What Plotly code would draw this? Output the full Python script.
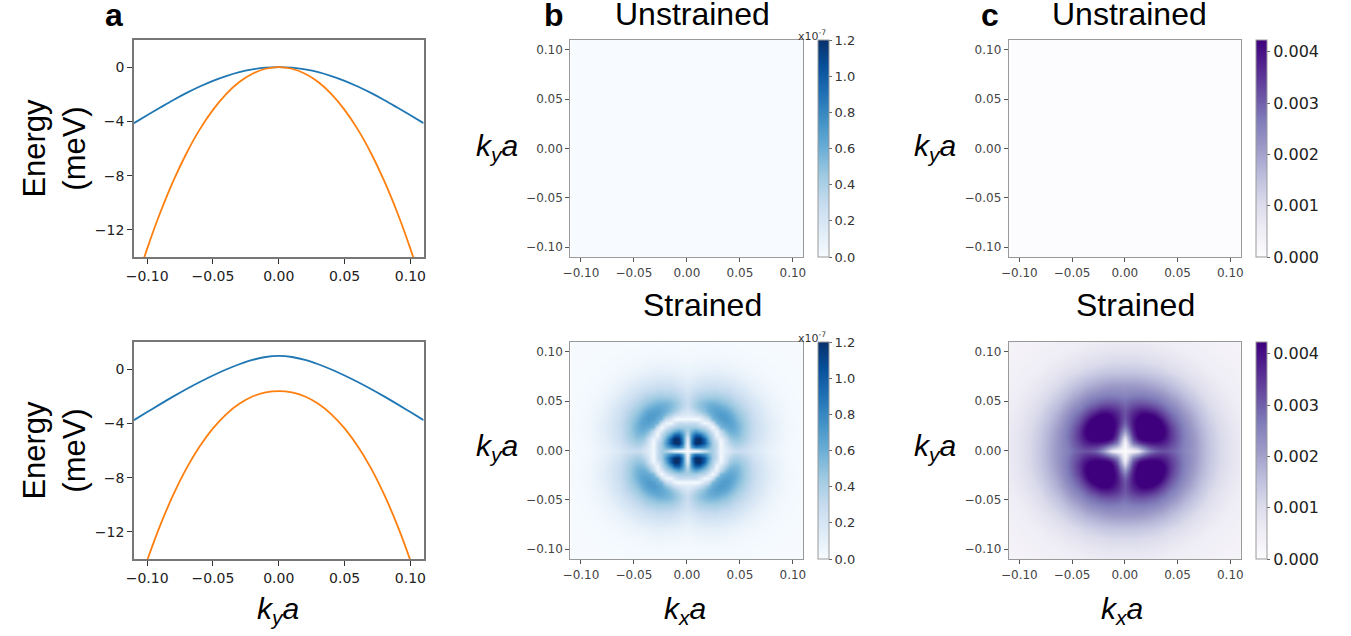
import numpy as np
import plotly.graph_objects as go
import plotly.express as px

W, H = 1351, 636

# ---------------- data: panel a (band energies, meV) ----------------
k_line = [-0.11, -0.10, -0.09, -0.08, -0.07, -0.06, -0.05, -0.04, -0.03, -0.02, -0.01, 0.0,
          0.01, 0.02, 0.03, 0.04, 0.05, 0.06, 0.07, 0.08, 0.09, 0.10, 0.11]
blue_unstrained = [-4.13, -3.55, -2.98, -2.42, -1.90, -1.43, -1.01, -0.66, -0.37, -0.17, -0.04, 0.0,
                   -0.04, -0.17, -0.37, -0.66, -1.01, -1.43, -1.90, -2.42, -2.98, -3.55, -4.13]
orange_unstrained = [-16.41, -13.4, -10.72, -8.37, -6.33, -4.59, -3.15, -1.99, -1.1, -0.485, -0.12, 0.0,
                     -0.12, -0.485, -1.1, -1.99, -3.15, -4.59, -6.33, -8.37, -10.72, -13.4, -16.41]
blue_strained = [-3.76, -3.165, -2.58, -2.01, -1.465, -0.95, -0.47, -0.03, 0.36, 0.68, 0.895, 0.97,
                 0.895, 0.68, 0.36, -0.03, -0.47, -0.95, -1.465, -2.01, -2.58, -3.165, -3.76]
orange_strained = [-17.1, -14.12, -11.5, -9.24, -7.3, -5.69, -4.37, -3.33, -2.56, -2.02, -1.72, -1.62,
                   -1.72, -2.02, -2.56, -3.33, -4.37, -5.69, -7.3, -9.24, -11.5, -14.12, -17.1]

# ---------------- data: heatmaps (one quadrant, kx>=0, ky>=0; rows = ky) ----------------
k_quad = [0.0, 0.004, 0.008, 0.012, 0.016, 0.020, 0.024, 0.028, 0.032, 0.036,
          0.040, 0.044, 0.048, 0.056, 0.064, 0.072, 0.080, 0.090, 0.100, 0.110]

# panel b, strained, units of 1e-7
b_strained_quad = [
    [0.0, 0.02, 0.05, 0.12, 0.28, 0.4, 0.42, 0.28, 0.03, 0.14, 0.2, 0.26, 0.28, 0.24, 0.17, 0.12, 0.076, 0.036, 0.018, 0.009],
    [0.02, 0.67, 0.85, 0.82, 0.74, 0.58, 0.42, 0.3, 0.03, 0.16, 0.26, 0.34, 0.35, 0.29, 0.2, 0.135, 0.087, 0.041, 0.02, 0.01],
    [0.05, 0.85, 1.25, 1.21, 1.0, 0.68, 0.42, 0.3, 0.0, 0.22, 0.34, 0.41, 0.42, 0.335, 0.225, 0.15, 0.096, 0.045, 0.022, 0.011],
    [0.12, 0.82, 1.21, 1.25, 0.97, 0.6, 0.38, 0.2, 0.05, 0.26, 0.43, 0.48, 0.48, 0.37, 0.25, 0.166, 0.104, 0.048, 0.024, 0.012],
    [0.28, 0.74, 1.0, 0.97, 0.7, 0.48, 0.33, 0.03, 0.2, 0.39, 0.51, 0.54, 0.53, 0.39, 0.27, 0.176, 0.107, 0.052, 0.025, 0.012],
    [0.4, 0.58, 0.68, 0.6, 0.48, 0.38, 0.18, 0.07, 0.3, 0.51, 0.59, 0.6, 0.56, 0.4, 0.27, 0.185, 0.112, 0.054, 0.026, 0.013],
    [0.42, 0.42, 0.42, 0.38, 0.33, 0.18, 0.01, 0.24, 0.55, 0.61, 0.64, 0.62, 0.57, 0.4, 0.28, 0.18, 0.117, 0.055, 0.028, 0.013],
    [0.28, 0.3, 0.3, 0.2, 0.03, 0.07, 0.24, 0.55, 0.61, 0.67, 0.67, 0.64, 0.56, 0.4, 0.28, 0.18, 0.116, 0.053, 0.027, 0.013],
    [0.03, 0.03, 0.0, 0.05, 0.2, 0.3, 0.55, 0.61, 0.68, 0.7, 0.67, 0.61, 0.53, 0.38, 0.26, 0.17, 0.106, 0.05, 0.025, 0.013],
    [0.14, 0.16, 0.22, 0.26, 0.39, 0.51, 0.61, 0.67, 0.7, 0.69, 0.64, 0.57, 0.49, 0.36, 0.25, 0.163, 0.1, 0.049, 0.024, 0.012],
    [0.2, 0.26, 0.34, 0.43, 0.51, 0.59, 0.64, 0.67, 0.67, 0.64, 0.59, 0.51, 0.45, 0.34, 0.235, 0.15, 0.084, 0.044, 0.023, 0.011],
    [0.26, 0.34, 0.41, 0.48, 0.54, 0.6, 0.62, 0.64, 0.61, 0.57, 0.51, 0.46, 0.4, 0.3, 0.21, 0.14, 0.077, 0.04, 0.02, 0.011],
    [0.28, 0.35, 0.42, 0.48, 0.53, 0.56, 0.57, 0.56, 0.53, 0.49, 0.45, 0.4, 0.36, 0.27, 0.185, 0.12, 0.07, 0.038, 0.019, 0.01],
    [0.24, 0.29, 0.335, 0.37, 0.39, 0.4, 0.4, 0.4, 0.38, 0.36, 0.34, 0.3, 0.27, 0.2, 0.14, 0.083, 0.053, 0.028, 0.016, 0.01],
    [0.17, 0.2, 0.225, 0.25, 0.27, 0.27, 0.28, 0.28, 0.26, 0.25, 0.235, 0.21, 0.185, 0.14, 0.088, 0.06, 0.04, 0.021, 0.012, 0.008],
    [0.12, 0.135, 0.15, 0.166, 0.176, 0.185, 0.18, 0.18, 0.17, 0.163, 0.15, 0.14, 0.12, 0.083, 0.06, 0.04, 0.027, 0.017, 0.011, 0.008],
    [0.076, 0.087, 0.096, 0.104, 0.107, 0.112, 0.117, 0.116, 0.106, 0.1, 0.084, 0.077, 0.07, 0.053, 0.04, 0.027, 0.019, 0.012, 0.009, 0.007],
    [0.036, 0.041, 0.045, 0.048, 0.052, 0.054, 0.055, 0.053, 0.05, 0.049, 0.044, 0.04, 0.038, 0.028, 0.021, 0.017, 0.012, 0.009, 0.007, 0.006],
    [0.018, 0.02, 0.022, 0.024, 0.025, 0.026, 0.028, 0.027, 0.025, 0.024, 0.023, 0.02, 0.019, 0.016, 0.012, 0.011, 0.009, 0.007, 0.006, 0.005],
    [0.009, 0.01, 0.011, 0.012, 0.012, 0.013, 0.013, 0.013, 0.013, 0.012, 0.011, 0.011, 0.01, 0.01, 0.008, 0.008, 0.007, 0.006, 0.005, 0.004],
]

# panel c, strained, units of 1e-3
c_strained_quad_milli = [
    [0.0, 0.05, 0.25, 0.7, 1.4, 2.1, 2.6, 2.95, 3.1, 3.15, 3.1, 3.0, 2.85, 2.5, 2.2, 1.8, 1.45, 1.08, 0.8, 0.6],
    [0.05, 1.0, 1.51, 1.98, 2.46, 2.88, 3.2, 3.4, 3.47, 3.45, 3.34, 3.16, 2.95, 2.54, 2.22, 1.81, 1.45, 1.08, 0.8, 0.6],
    [0.25, 1.51, 2.59, 3.19, 3.54, 3.74, 3.88, 3.94, 3.91, 3.78, 3.6, 3.32, 3.05, 2.57, 2.22, 1.8, 1.44, 1.07, 0.8, 0.6],
    [0.7, 1.98, 3.19, 3.95, 4.29, 4.41, 4.45, 4.4, 4.3, 4.09, 3.8, 3.46, 3.11, 2.59, 2.2, 1.79, 1.43, 1.07, 0.8, 0.6],
    [1.4, 2.46, 3.54, 4.29, 4.68, 4.82, 4.83, 4.77, 4.57, 4.31, 3.91, 3.51, 3.13, 2.59, 2.17, 1.75, 1.41, 1.05, 0.78, 0.59],
    [2.1, 2.88, 3.74, 4.41, 4.82, 5.0, 5.03, 4.93, 4.7, 4.37, 3.92, 3.49, 3.08, 2.55, 2.13, 1.72, 1.38, 1.02, 0.77, 0.58],
    [2.6, 3.2, 3.88, 4.45, 4.83, 5.03, 5.05, 4.94, 4.72, 4.26, 3.83, 3.39, 3.02, 2.5, 2.06, 1.67, 1.35, 0.99, 0.76, 0.57],
    [2.95, 3.4, 3.94, 4.4, 4.77, 4.93, 4.94, 4.82, 4.47, 4.06, 3.64, 3.21, 2.91, 2.43, 1.99, 1.61, 1.3, 0.96, 0.73, 0.56],
    [3.1, 3.47, 3.91, 4.3, 4.57, 4.7, 4.72, 4.47, 4.14, 3.77, 3.38, 3.06, 2.78, 2.34, 1.9, 1.54, 1.24, 0.93, 0.7, 0.55],
    [3.15, 3.45, 3.78, 4.09, 4.31, 4.37, 4.26, 4.06, 3.77, 3.44, 3.15, 2.9, 2.64, 2.22, 1.85, 1.48, 1.19, 0.9, 0.68, 0.54],
    [3.1, 3.34, 3.6, 3.8, 3.91, 3.92, 3.83, 3.64, 3.38, 3.15, 2.9, 2.69, 2.49, 2.1, 1.72, 1.4, 1.12, 0.85, 0.65, 0.52],
    [3.0, 3.16, 3.32, 3.46, 3.51, 3.49, 3.39, 3.21, 3.06, 2.9, 2.69, 2.5, 2.33, 1.95, 1.62, 1.33, 1.06, 0.8, 0.62, 0.5],
    [2.85, 2.95, 3.05, 3.11, 3.13, 3.08, 3.02, 2.91, 2.78, 2.64, 2.49, 2.33, 2.15, 1.83, 1.5, 1.24, 0.99, 0.76, 0.59, 0.48],
    [2.5, 2.54, 2.57, 2.59, 2.59, 2.55, 2.5, 2.43, 2.34, 2.22, 2.1, 1.95, 1.83, 1.54, 1.3, 1.06, 0.87, 0.68, 0.55, 0.46],
    [2.2, 2.22, 2.22, 2.2, 2.17, 2.13, 2.06, 1.99, 1.9, 1.85, 1.72, 1.62, 1.5, 1.3, 1.08, 0.9, 0.75, 0.6, 0.49, 0.42],
    [1.8, 1.81, 1.8, 1.79, 1.75, 1.72, 1.67, 1.61, 1.54, 1.48, 1.4, 1.33, 1.24, 1.06, 0.9, 0.76, 0.65, 0.54, 0.46, 0.39],
    [1.45, 1.45, 1.44, 1.43, 1.41, 1.38, 1.35, 1.3, 1.24, 1.19, 1.12, 1.06, 0.99, 0.87, 0.75, 0.65, 0.56, 0.48, 0.42, 0.37],
    [1.08, 1.08, 1.07, 1.07, 1.05, 1.02, 0.99, 0.96, 0.93, 0.9, 0.85, 0.8, 0.76, 0.68, 0.6, 0.54, 0.48, 0.42, 0.38, 0.34],
    [0.8, 0.8, 0.8, 0.8, 0.78, 0.77, 0.76, 0.73, 0.7, 0.68, 0.65, 0.62, 0.59, 0.55, 0.49, 0.46, 0.42, 0.38, 0.34, 0.32],
    [0.6, 0.6, 0.6, 0.6, 0.59, 0.58, 0.57, 0.56, 0.55, 0.54, 0.52, 0.5, 0.48, 0.46, 0.42, 0.39, 0.37, 0.34, 0.32, 0.3],
]

# unstrained maps: flat, essentially zero
k_flat = [-0.11, 0.0, 0.11]
b_unstrained = [[0.0, 0.0, 0.0], [0.0, 0.0, 0.0], [0.0, 0.0, 0.0]]
c_unstrained = [[0.0, 0.0, 0.0], [0.0, 0.0, 0.0], [0.0, 0.0, 0.0]]

b_ticks = [0.0, 0.2, 0.4, 0.6, 0.8, 1.0, 1.2]
c_ticks = [0.0, 0.001, 0.002, 0.003, 0.004]
k_ticks = [-0.10, -0.05, 0.0, 0.05, 0.10]
e_ticks = [0, -4, -8, -12]


def mirror(quad):
    q = np.array(quad, dtype=float)
    half = np.hstack([q[:, :0:-1], q])
    return np.vstack([half[:0:-1], half])


k_full = np.concatenate([-np.array(k_quad[:0:-1]), np.array(k_quad)])
b_strained = mirror(b_strained_quad)
c_strained = mirror(c_strained_quad_milli) * 1e-3


def cscale(cols):
    n = len(cols)
    return [[i / (n - 1), c] for i, c in enumerate(cols)]


blues = cscale(px.colors.sequential.Blues)
purples = cscale(px.colors.sequential.Purples)


def xd(x0, x1):
    return [x0 / W, x1 / W]


def yd(y0, y1):
    return [1 - y1 / H, 1 - y0 / H]


TOP = (40, 257)
BOT = (342, 559)
A_X = (127, 419)
B_X = (567, 802)
C_X = (1009, 1243)

fig = go.Figure()

blue_c = '#1f77b4'
orange_c = '#ff7f0e'
fig.add_trace(go.Scatter(x=k_line, y=blue_unstrained, mode='lines', line=dict(color=blue_c, width=1.8, shape='spline'),
                         xaxis='x', yaxis='y'))
fig.add_trace(go.Scatter(x=k_line, y=orange_unstrained, mode='lines', line=dict(color=orange_c, width=1.8, shape='spline'),
                         xaxis='x', yaxis='y'))
fig.add_trace(go.Scatter(x=k_line, y=blue_strained, mode='lines', line=dict(color=blue_c, width=1.8, shape='spline'),
                         xaxis='x2', yaxis='y2'))
fig.add_trace(go.Scatter(x=k_line, y=orange_strained, mode='lines', line=dict(color=orange_c, width=1.8, shape='spline'),
                         xaxis='x2', yaxis='y2'))


def cbar(x0, ypos, ticks, fmt, size, color):
    return dict(x=x0 / W, xanchor='left', y=1 - (ypos[0] + ypos[1]) / 2 / H, yanchor='middle',
                len=(ypos[1] - ypos[0]) / H, lenmode='fraction', thickness=11, thicknessmode='pixels',
                outlinewidth=1, outlinecolor='#999', tickvals=ticks, tickformat=fmt, ticks='outside',
                ticklen=3, tickcolor='#666', tickfont=dict(family='DejaVu Sans', size=size, color=color),
                xpad=0, ypad=0)


fig.add_trace(go.Heatmap(x=k_flat, y=k_flat, z=b_unstrained, colorscale=blues, zmin=0, zmax=1.2, zsmooth='best',
                         colorbar=cbar(817, TOP, b_ticks, '.1f', 13, '#333'), xaxis='x3', yaxis='y3'))
fig.add_trace(go.Heatmap(x=k_full, y=k_full, z=b_strained, colorscale=blues, zmin=0, zmax=1.2, zsmooth='best',
                         colorbar=cbar(817, BOT, b_ticks, '.1f', 13, '#333'), xaxis='x4', yaxis='y4'))
fig.add_trace(go.Heatmap(x=k_flat, y=k_flat, z=c_unstrained, colorscale=purples, zmin=0, zmax=0.00423, zsmooth='best',
                         colorbar=cbar(1258, TOP, c_ticks, '.3f', 16, '#222'), xaxis='x5', yaxis='y5'))
fig.add_trace(go.Heatmap(x=k_full, y=k_full, z=c_strained, colorscale=purples, zmin=0, zmax=0.00423, zsmooth='best',
                         colorbar=cbar(1258, BOT, c_ticks, '.3f', 16, '#222'), xaxis='x6', yaxis='y6'))

ax_a = dict(showline=True, mirror=True, linecolor='#777', linewidth=1.5, ticks='outside', ticklen=5, tickwidth=1.2,
            tickcolor='#333', showgrid=False, zeroline=False,
            tickfont=dict(family='DejaVu Sans', size=14, color='#222'))
ax_h = dict(showline=True, mirror=True, linecolor='#999', linewidth=1.2, ticks='outside', ticklen=4, tickwidth=1,
            tickcolor='#555', showgrid=False, zeroline=False, range=[-0.11, 0.11], tickvals=k_ticks,
            tickformat='.2f', tickfont=dict(family='DejaVu Sans', size=12, color='#444'))

layout = dict(width=W, height=H, margin=dict(l=0, r=0, t=0, b=0), paper_bgcolor='white', plot_bgcolor='white',
              showlegend=False, font=dict(family='Liberation Sans', color='black'))

layout['xaxis'] = dict(ax_a, domain=xd(*A_X), anchor='y', range=[-0.11, 0.11], tickvals=k_ticks, tickformat='.2f')
layout['yaxis'] = dict(ax_a, domain=yd(*TOP), anchor='x', range=[-14, 2], tickvals=e_ticks)
layout['xaxis2'] = dict(ax_a, domain=xd(*A_X), anchor='y2', range=[-0.11, 0.11], tickvals=k_ticks, tickformat='.2f')
layout['yaxis2'] = dict(ax_a, domain=yd(*BOT), anchor='x2', range=[-14, 2], tickvals=e_ticks)
layout['xaxis3'] = dict(ax_h, domain=xd(*B_X), anchor='y3')
layout['yaxis3'] = dict(ax_h, domain=yd(*TOP), anchor='x3')
layout['xaxis4'] = dict(ax_h, domain=xd(*B_X), anchor='y4')
layout['yaxis4'] = dict(ax_h, domain=yd(*BOT), anchor='x4')
layout['xaxis5'] = dict(ax_h, domain=xd(*C_X), anchor='y5')
layout['yaxis5'] = dict(ax_h, domain=yd(*TOP), anchor='x5')
layout['xaxis6'] = dict(ax_h, domain=xd(*C_X), anchor='y6')
layout['yaxis6'] = dict(ax_h, domain=yd(*BOT), anchor='x6')

fig.update_layout(**layout)


def ann(text, x, y, size, bold=False, angle=0, family='Liberation Sans', color='black'):
    fig.add_annotation(text=('<b>%s</b>' % text) if bold else text, x=x / W, y=1 - y / H, xref='paper',
                       yref='paper', xanchor='center', yanchor='middle', showarrow=False, textangle=angle,
                       font=dict(family=family, size=size, color=color))


kya = '<i>k</i><sub><i>y</i></sub><i>a</i>'
kxa = '<i>k</i><sub><i>x</i></sub><i>a</i>'

ann('a', 107, 15, 32, bold=True)
ann('b', 550, 15, 32, bold=True)
ann('c', 990, 15, 32, bold=True)
ann('Unstrained', 690, 14, 32)
ann('Unstrained', 1131, 14, 32)
ann('Strained', 700, 305, 32)
ann('Strained', 1137, 305, 32)
ann('Energy<br>(meV)', 47, 148, 31, angle=-90)
ann('Energy<br>(meV)', 47, 450, 31, angle=-90)
ann(kya, 272, 610, 30)
ann(kxa, 683, 610, 30)
ann(kxa, 1123, 610, 30)
ann(kya, 493, 147, 30)
ann(kya, 935, 147, 30)
ann(kya, 493, 448, 30)
ann(kya, 935, 448, 30)
ann('x10<sup>-7</sup>', 811, 35, 11, family='DejaVu Sans', color='#333')
ann('x10<sup>-7</sup>', 811, 337, 11, family='DejaVu Sans', color='#333')

fig.write_html('out.html', config={'displayModeBar': False},
               post_script="document.body.style.margin='0px';")
